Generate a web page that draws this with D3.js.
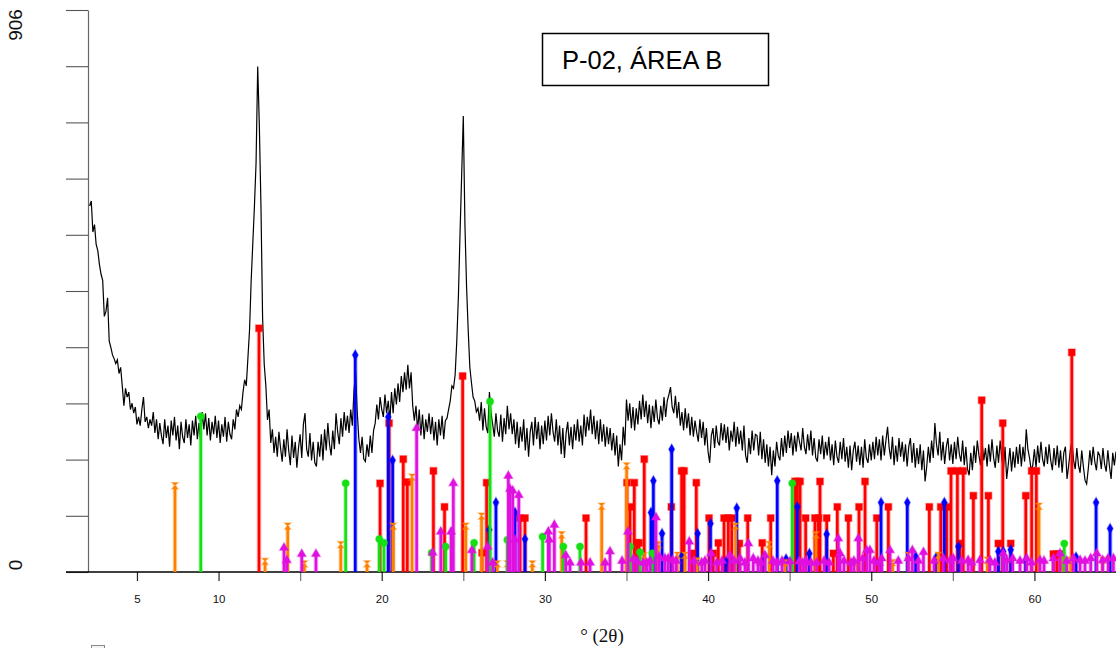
<!DOCTYPE html>
<html>
<head>
<meta charset="utf-8">
<script src="https://cdn.jsdelivr.net/npm/d3@7"></script>
<style>
  html, body { margin: 0; padding: 0; background: #fff; }
  svg { display: block; }
</style>
</head>
<body>
<svg id="chart" width="1116" height="648"></svg>
<script>
// ---- measured diffractogram: counts sampled every 0.1° 2θ from 2.1° ----
const scanStart = 2.1;
const scanStep = 0.1;
const counts = [
  590, 598, 548, 560, 528, 518, 496, 480, 470,
  412, 420, 442, 372, 362, 350, 344, 336, 342, 320,
  330, 300, 268, 296, 282, 290, 262, 272, 256, 266,
  238, 250, 236, 262, 282, 242, 250, 232, 246, 236,
  258, 224, 246, 214, 240, 220, 206, 246, 216, 236,
  202, 244, 220, 250, 212, 236, 198, 242, 218, 208,
  246, 216, 238, 204, 244, 220, 252, 214, 240, 212,
  258, 230, 256, 220, 248, 212, 242, 222, 252, 216,
  244, 208, 238, 218, 250, 210, 242, 222, 214, 246,
  230, 262, 250, 268, 262, 290, 310, 300, 345, 390,
  470, 530, 590, 660, 815, 720, 590, 410, 335, 300,
  245, 262, 208, 230, 192, 218, 186, 226, 200, 178,
  214, 186, 230, 196, 172, 220, 184, 210, 168, 200,
  222, 184, 238, 256, 198, 186, 224, 180, 210, 176,
  170, 210, 186, 222, 180, 230, 196, 240, 206, 188,
  228, 198, 256, 226, 206, 248, 218, 258, 228, 252,
  224, 262, 236, 292, 322, 258, 214, 192, 218, 182,
  178, 206, 186, 220, 192, 228, 240, 270, 246, 282,
  262, 250, 286, 256, 276, 244, 290, 256, 296, 270,
  304, 274, 316, 290, 322, 294, 334, 296, 322, 268,
  244, 268, 228, 262, 220, 254, 214, 246, 226, 256,
  222, 250, 212, 242, 204, 246, 220, 252, 214, 244,
  248, 262, 276, 300, 296, 318, 372, 445, 546, 640,
  735, 560, 460, 390, 330, 305, 282, 276, 258, 264,
  244, 274, 228, 264, 234, 224, 290, 256, 238, 218,
  256, 228, 218, 254, 210, 248, 222, 268, 230, 256,
  222, 246, 206, 242, 200, 234, 210, 246, 196, 232,
  186, 226, 242, 204, 250, 214, 242, 198, 236, 206,
  244, 212, 252, 220, 256, 226, 210, 246, 204, 236,
  190, 232, 184, 224, 242, 204, 234, 198, 238, 212,
  246, 210, 236, 204, 254, 218, 250, 228, 262, 222,
  252, 214, 244, 206, 246, 210, 238, 202, 234, 206,
  232, 196, 224, 188, 220, 170, 206, 180, 234, 204,
  278, 244, 272, 232, 266, 228, 264, 238, 276, 246,
  286, 250, 276, 240, 270, 232, 268, 242, 278, 248,
  238, 268, 244, 282, 250, 276, 286, 298, 266, 256,
  284, 248, 274, 236, 258, 228, 264, 232, 256, 220,
  250, 218, 244, 226, 210, 246, 216, 242, 204, 232,
  194, 176, 220, 232, 200, 236, 210, 204, 240, 212,
  238, 208, 234, 196, 228, 210, 242, 202, 234, 206,
  228, 196, 236, 188, 176, 216, 190, 228, 196, 222,
  220, 188, 226, 182, 214, 176, 206, 170, 202, 156,
  196, 170, 210, 188, 180, 216, 186, 220, 192, 228,
  200, 224, 188, 220, 194, 226, 210, 196, 232, 202,
  190, 222, 196, 228, 188, 216, 184, 178, 214, 190,
  220, 182, 210, 188, 218, 180, 206, 172, 212, 186,
  176, 210, 182, 216, 178, 202, 168, 204, 164, 196,
  210, 178, 204, 172, 202, 168, 214, 184, 176, 206,
  180, 210, 182, 218, 188, 214, 180, 220, 188, 212,
  234, 200, 182, 218, 172, 204, 178, 216, 186, 210,
  178, 206, 170, 202, 216, 176, 208, 168, 200, 174,
  206, 164, 196, 146, 170, 202, 176, 212, 184, 240,
  206, 188, 226, 180, 210, 174, 202, 216, 180, 206,
  174, 210, 182, 218, 190, 178, 212, 172, 202, 166,
  156, 192, 164, 204, 176, 212, 188, 172, 208, 180,
  200, 170, 206, 178, 214, 184, 168, 204, 176, 212,
  184, 164, 202, 150, 174, 200, 162, 194, 168, 202,
  174, 206, 170, 202, 178, 230, 198, 184, 164, 172,
  198, 168, 204, 176, 210, 182, 170, 202, 174, 206,
  180, 164, 200, 172, 204, 168, 196, 160, 192, 202,
  150, 172, 196, 212, 180, 166, 200, 172, 160, 196,
  170, 148, 142, 166, 196, 172, 202, 178, 164, 194,
  188, 166, 200, 174, 162, 196, 170, 150, 192, 172,
  194
];

// ---- reference phase stick patterns (2θ, intensity) ----
const redPos = [12.48, 19.90, 20.45, 21.32, 21.57, 23.17, 23.85, 24.96, 26.15, 26.43,
  28.48, 28.78, 32.52, 35.03, 35.22, 35.48, 35.63, 35.77, 36.09, 37.75,
  38.38, 38.53, 39.00, 39.28, 40.06, 40.32, 40.63, 40.98, 41.24, 41.45,
  41.92, 42.43, 43.32, 43.84, 45.33, 45.47, 45.64, 45.98, 46.55, 46.76,
  46.86, 47.27, 47.68, 47.92, 48.60, 49.25, 49.62, 50.34, 51.05, 53.56,
  54.26, 54.62, 54.89, 55.28, 55.44, 55.64, 56.26, 56.77, 57.18, 57.79,
  58.06, 58.55, 59.47, 59.83, 60.12, 61.16, 61.37, 61.57, 62.29];
const redInt = [393, 143, 240, 182, 145, 163, 105, 316, 31, 144,
  87, 87, 87, 144, 105, 144, 47, 47, 182, 105,
  163, 163, 30, 144, 87, 30, 47, 87, 87, 87,
  46, 87, 47, 87, 146, 146, 146, 87, 87, 87,
  146, 87, 30, 105, 87, 105, 146, 87, 105, 105,
  105, 105, 163, 163, 46, 163, 123, 277, 123, 46,
  240, 46, 123, 163, 163, 29, 29, 29, 354];

const bluePos = [18.38, 20.40, 20.67, 26.59, 27.00, 28.17, 28.78, 36.50, 36.65, 37.18,
  37.77, 38.38, 39.36, 40.15, 41.10, 41.76, 43.45, 44.24, 44.78, 45.47,
  46.21, 47.27, 50.60, 52.21, 52.72, 53.97, 54.48, 55.34, 57.79, 58.09,
  58.55, 59.47, 62.55, 63.78, 64.64];
const blueInt = [350, 250, 180, 68, 112, 96, 53, 96, 147, 62,
  198, 25, 62, 78, 17, 103, 25, 147, 21, 105,
  30, 61, 112, 112, 25, 23, 112, 41, 33, 33,
  36, 19, 24, 112, 70];

const greenPos = [8.91, 17.79, 19.85, 20.14, 23.06, 23.92, 25.66, 26.64, 27.70, 29.86,
  31.13, 32.15, 35.22, 35.83, 36.59, 45.16, 61.83];
const greenInt = [251, 143, 53, 47, 31, 41, 47, 275, 52, 57,
  41, 41, 41, 32, 30, 143, 46];

const orangePos = [7.33, 12.85, 14.24, 15.26, 17.49, 19.10, 20.71, 21.86, 25.15, 26.12,
  27.08, 27.70, 29.23, 31.03, 33.48, 35.01, 36.07, 36.95, 38.11, 38.59,
  39.34, 41.69, 43.75, 44.72, 46.61, 49.15, 51.31, 52.27, 54.11, 57.11,
  60.28, 61.67, 62.22, 64.18];
const orangeInt = [139, 17, 74, 13, 44, 13, 74, 153, 74, 90,
  13, 13, 13, 60, 106, 171, 26, 44, 27, 27,
  18, 74, 44, 15, 60, 15, 15, 27, 27, 19,
  106, 26, 19, 19];

const magentaPos = [14.01, 14.18, 15.10, 15.97, 22.14, 23.12, 23.62, 24.25, 24.39, 25.52,
  26.49, 26.80, 27.76, 27.86, 28.03, 28.17, 28.40, 30.21, 30.27, 30.58,
  31.28, 31.54, 32.21, 32.77, 33.69, 33.99, 34.73, 35.09, 35.42, 35.65,
  36.03, 36.24, 36.44, 36.81, 37.01, 37.36, 37.56, 37.83, 38.04, 38.85,
  39.14, 39.61, 39.81, 40.18, 40.53, 40.86, 41.34, 41.59, 41.96, 42.26,
  42.47, 42.77, 43.06, 43.24, 43.49, 43.98, 44.21, 44.53, 45.02, 45.59,
  45.80, 46.00, 46.31, 46.65, 47.11, 47.42, 47.98, 48.09, 48.33, 48.76,
  48.94, 49.21, 49.48, 49.72, 49.92, 50.17, 50.48, 50.64, 51.15, 51.66,
  52.27, 52.52, 52.89, 53.20, 53.85, 54.42, 54.83, 55.03, 55.54, 55.94,
  56.15, 56.66, 57.27, 57.58, 58.09, 58.30, 58.67, 59.12, 59.53, 59.83,
  60.34, 60.59, 61.16, 61.57, 61.98, 62.39, 62.80, 63.10, 63.45, 63.82,
  64.18, 64.52, 64.84];
const magentaInt = [39, 19, 29, 29, 232, 31, 65, 65, 143, 35,
  41, 15, 155, 134, 131, 52, 124, 65, 52, 76,
  27, 15, 15, 15, 15, 33, 18, 65, 21, 18,
  15, 15, 18, 88, 25, 22, 22, 19, 18, 49,
  18, 15, 18, 30, 15, 18, 27, 18, 22, 15,
  46, 22, 18, 15, 27, 18, 15, 18, 17, 17,
  15, 18, 15, 15, 18, 15, 54, 30, 18, 15,
  18, 54, 22, 35, 35, 18, 15, 22, 35, 18,
  22, 35, 18, 32, 18, 22, 19, 22, 18, 19,
  15, 19, 19, 15, 30, 19, 22, 18, 22, 15,
  19, 18, 22, 30, 18, 22, 19, 18, 22, 30,
  19, 22, 22];

// ---- axis ticks ----
const xTickValues = [5, 10, 15, 20, 25, 30, 35, 40, 45, 50, 55, 60];
const xTickLabels = ["5", "10", "", "20", "", "30", "", "40", "", "50", "", "60"];
const yMax = 906;
const yTickValues = d3.range(0, 11).map(i => i * yMax / 10);
const yLabelTop = "906";
const yLabelBottom = "0";
const titleText = "P-02, ÁREA B";
const xTitle = "° (2θ)";

// ---- layout ----
const svg = d3.select("#chart");
const x = d3.scaleLinear().domain([2, 65]).range([88, 1116]);
const y = d3.scaleLinear().domain([0, yMax]).range([572, 10]);

// y axis: tick marks only, labels drawn rotated afterwards
const yAxis = d3.axisLeft(y).tickValues(yTickValues).tickSize(22).tickSizeOuter(0).tickFormat("");
const gy = svg.append("g").attr("transform", `translate(${x.range()[0]},0)`).call(yAxis);
gy.select(".domain").attr("stroke", "#666").attr("stroke-width", 1.2);
gy.selectAll(".tick line").attr("stroke", "#555").attr("stroke-width", 1.1);

const sansFont = "'Liberation Sans', Arial, Helvetica, sans-serif";
svg.append("text").text(yLabelTop)
  .attr("transform", "translate(22,25) rotate(-90)")
  .attr("text-anchor", "middle").attr("font-family", sansFont).attr("font-size", 19).attr("fill", "#111");
svg.append("text").text(yLabelBottom)
  .attr("transform", "translate(22,565) rotate(-90)")
  .attr("text-anchor", "middle").attr("font-family", sansFont).attr("font-size", 19).attr("fill", "#111");

// x axis
const xAxis = d3.axisBottom(x).tickValues(xTickValues).tickSize(9).tickSizeOuter(0)
  .tickFormat((d, i) => xTickLabels[i]);
const gx = svg.append("g").attr("transform", "translate(0,572)").call(xAxis);
gx.select(".domain").remove();
gx.selectAll(".tick line")
  .attr("stroke", (d, i) => xTickLabels[i] ? "#222" : "#777")
  .attr("stroke-width", 1.2);
gx.selectAll(".tick text")
  .attr("font-family", sansFont).attr("font-size", 11.5).attr("fill", "#111").attr("y", 23);

// baseline across the whole plot
svg.append("line").attr("x1", 66).attr("x2", 1116).attr("y1", y(0)).attr("y2", y(0))
  .attr("stroke", "#000").attr("stroke-width", 1.3);

// measured pattern
const scan = counts.map((c, i) => ({ t: scanStart + i * scanStep, c }));
svg.append("path").datum(scan)
  .attr("fill", "none").attr("stroke", "#000").attr("stroke-width", 1.2)
  .attr("stroke-linejoin", "miter")
  .attr("d", d3.line().x(d => x(d.t)).y(d => y(d.c)));

// stick patterns with their markers
const hourglass = {
  draw(ctx, size) {
    const r = Math.sqrt(size) / 2;
    ctx.moveTo(-r, -r); ctx.lineTo(r, -r); ctx.lineTo(-r, r); ctx.lineTo(r, r); ctx.closePath();
  }
};
const phases = [
  { pos: redPos, val: redInt, color: "#ff0000", symbol: d3.symbolSquare, size: 46 },
  { pos: bluePos, val: blueInt, color: "#0000ff", symbol: d3.symbolDiamond, size: 30 },
  { pos: orangePos, val: orangeInt, color: "#ff8000", symbol: hourglass, size: 40 },
  { pos: greenPos, val: greenInt, color: "#14e014", symbol: d3.symbolCircle, size: 40 },
  { pos: magentaPos, val: magentaInt, color: "#e010e0", symbol: d3.symbolTriangle, size: 34 }
];

phases.forEach(ph => {
  const data = ph.pos.map((p, i) => ({ p, v: ph.val[i] }));
  const g = svg.append("g");
  g.selectAll("line.halo").data(data).join("line").attr("class", "halo")
    .attr("x1", d => x(d.p)).attr("x2", d => x(d.p))
    .attr("y1", y(0)).attr("y2", d => y(d.v))
    .attr("stroke", ph.color).attr("stroke-opacity", 0.3).attr("stroke-width", 4.6);
  g.selectAll("line.core").data(data).join("line").attr("class", "core")
    .attr("x1", d => x(d.p)).attr("x2", d => x(d.p))
    .attr("y1", y(0)).attr("y2", d => y(d.v))
    .attr("stroke", ph.color).attr("stroke-width", 2.6);
  g.selectAll("path").data(data).join("path")
    .attr("transform", d => `translate(${x(d.p)},${y(d.v)})`)
    .attr("d", d3.symbol().type(ph.symbol).size(ph.size))
    .attr("fill", ph.color)
    .attr("stroke", ph.color).attr("stroke-opacity", 0.35).attr("stroke-width", 1.4);
});

// title box
svg.append("rect").attr("x", 542.5).attr("y", 33.5).attr("width", 226).attr("height", 52)
  .attr("fill", "#fff").attr("stroke", "#000").attr("stroke-width", 1.5);
svg.append("text").text(titleText)
  .attr("x", 562).attr("y", 68.5)
  .attr("font-family", sansFont).attr("font-size", 25.5).attr("fill", "#000");

// x axis title
svg.append("text").text(xTitle)
  .attr("x", 602).attr("y", 642).attr("text-anchor", "middle")
  .attr("font-family", "'Liberation Serif', 'Times New Roman', serif").attr("font-size", 19).attr("fill", "#111");

// small legend box peeking in at the lower-left edge
svg.append("rect").attr("x", 91.5).attr("y", 645.5).attr("width", 13).attr("height", 10)
  .attr("fill", "#f4f4f4").attr("stroke", "#888").attr("stroke-width", 1);
</script>
</body>
</html>
